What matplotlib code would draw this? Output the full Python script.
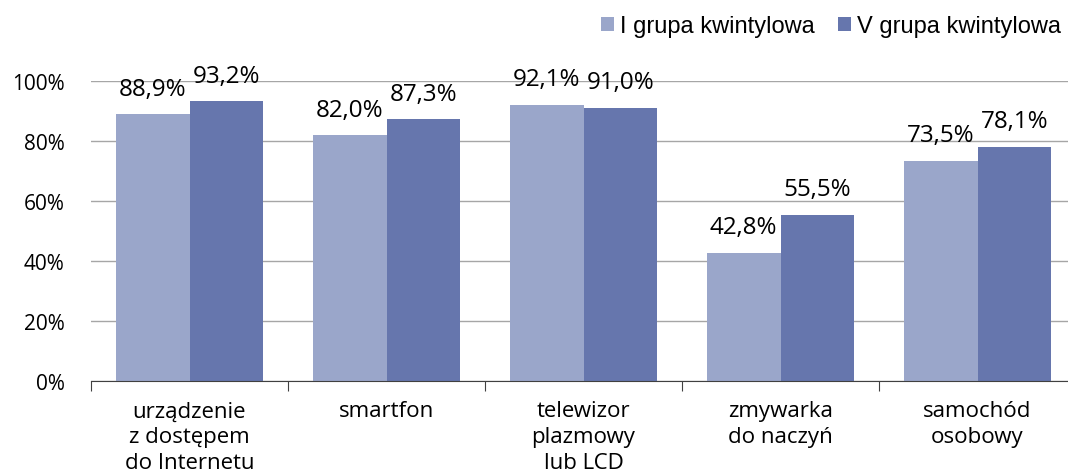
import matplotlib
matplotlib.use("Agg")
import matplotlib.pyplot as plt
from matplotlib import font_manager as fm
import numpy as np

kategorie = ["urządzenie\nz dostępem\ndo Internetu", "smartfon",
             "telewizor\nplazmowy\nlub LCD", "zmywarka\ndo naczyń",
             "samochód\nosobowy"]
grupa_i = [88.9, 82.0, 92.1, 42.8, 73.5]
grupa_v = [93.2, 87.3, 91.0, 55.5, 78.1]
serie = ["I grupa kwintylowa", "V grupa kwintylowa"]
kolory = ["#9aa6ca", "#6676ad"]


def font(size):
    # static Open Sans file
    for f in fm.fontManager.ttflist:
        if f.fname.endswith("OpenSans-Regular.ttf"):
            return fm.FontProperties(fname=f.fname, size=size)
    return fm.FontProperties(family="Open Sans", size=size)


fig = plt.figure(figsize=(10.68, 4.77), dpi=100)
ax = fig.add_axes([91 / 1068, 95 / 477, 985 / 1068, 300 / 477])

x = np.arange(len(kategorie))
w = 0.375
b1 = ax.bar(x - w / 2, grupa_i, w, color=kolory[0], label=serie[0], zorder=2)
b2 = ax.bar(x + w / 2, grupa_v, w, color=kolory[1], label=serie[1], zorder=2)

for bars, vals in ((b1, grupa_i), (b2, grupa_v)):
    for r, v in zip(bars, vals):
        ax.text(r.get_x() + r.get_width() / 2, v + 6.5, f"{v:.1f}%".replace(".", ","),
                ha="center", va="baseline", fontproperties=font(17.5))

ax.set_xlim(-0.5, len(kategorie) - 0.5)
ax.set_ylim(0, 100)
ax.set_yticks(range(0, 101, 20))
ax.set_yticklabels([f"{t}%" for t in range(0, 101, 20)], fontproperties=font(15))
ax.yaxis.grid(True, color="#a6a6a6", lw=1, zorder=0)
ax.tick_params(axis="y", length=0, pad=19)

ax.set_xticks(np.arange(len(kategorie) + 1) - 0.5, minor=False)
ax.set_xticklabels([])
ax.tick_params(axis="x", length=7, color="#404040", direction="out")
for i, k in enumerate(kategorie):
    ax.text(i, -6.5, k, ha="center", va="top", fontproperties=font(16),
            linespacing=1.3)

for s in ("top", "right", "left"):
    ax.spines[s].set_visible(False)
ax.spines["bottom"].set_color("#404040")

fig.legend(handles=[b1, b2], labels=serie, loc="center right",
           bbox_to_anchor=(1061 / 1068, 1 - 27 / 477), ncol=2, frameon=False,
           prop={"family": "Liberation Sans", "size": 17},
           handlelength=0.55, handleheight=0.55, handletextpad=0.25,
           columnspacing=1.0, borderaxespad=0, borderpad=0)

fig.savefig("out.png", dpi=100)
